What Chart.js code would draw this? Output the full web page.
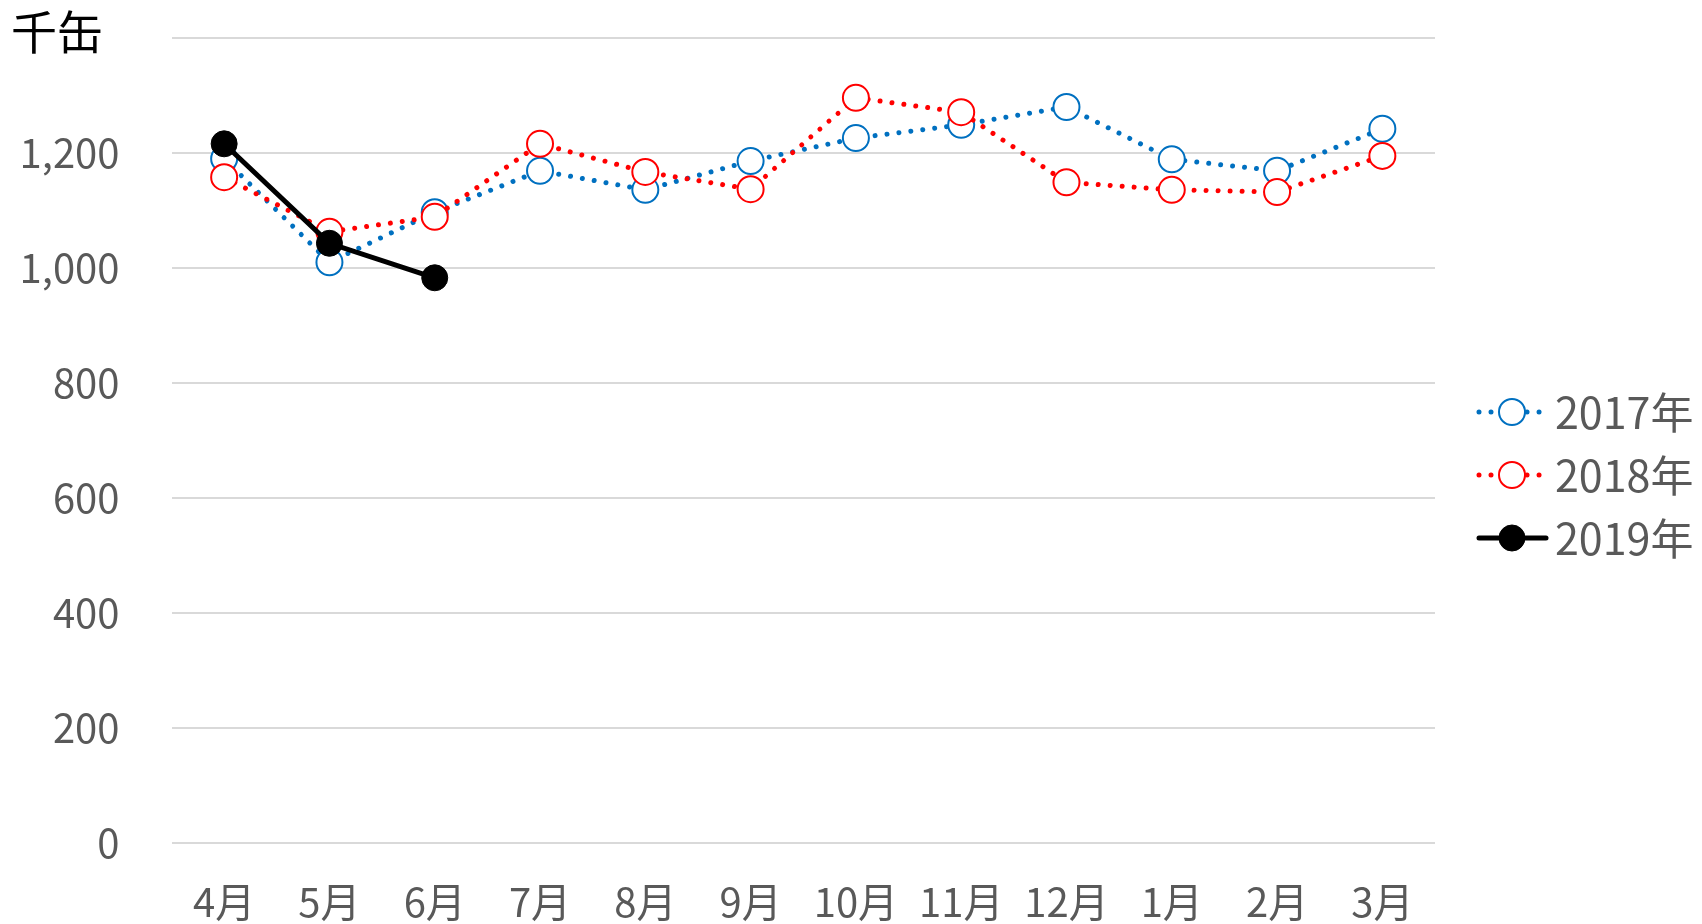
<!DOCTYPE html>
<html>
<head>
<meta charset="utf-8">
<script src="https://cdn.jsdelivr.net/npm/chart.js@4"></script>
<style>
  html, body { margin: 0; padding: 0; background: #fff; }
</style>
</head>
<body>
<canvas id="myChart" width="1702" height="924"></canvas>
<script>
// data (千缶)
const months = ["4月", "5月", "6月", "7月", "8月", "9月", "10月", "11月", "12月", "1月", "2月", "3月"];
const sales2017 = [1190, 1010, 1097, 1169, 1136, 1186, 1226, 1249, 1280, 1189, 1169, 1242];
const sales2018 = [1158, 1063, 1089, 1216, 1167, 1137, 1296, 1271, 1149, 1136, 1132, 1195];
const sales2019 = [1216, 1043, 983];
const seriesNames = ["2017年", "2018年", "2019年"];

const FONT = "'Noto Sans CJK JP', 'Noto Sans', sans-serif";
const GREY = "#595959";

document.addEventListener("DOMContentLoaded", function () {
  const canvas = document.getElementById("myChart");
  const ctx = canvas.getContext("2d");

  // unit label top-left
  const unitLabel = {
    id: "unitLabel",
    afterDraw(chart) {
      const c = chart.ctx;
      c.save();
      c.fillStyle = "#000";
      c.font = "46px " + FONT;
      c.textAlign = "left";
      c.textBaseline = "middle";
      c.fillText("千缶", 11, 32);
      c.restore();
    },
  };

  // legend on the right: line + marker + text
  const sideLegend = {
    id: "sideLegend",
    afterDraw(chart) {
      const c = chart.ctx;
      chart.data.datasets.forEach((ds, i) => {
        const y = 412 + 63 * i;
        c.save();
        c.strokeStyle = ds.borderColor;
        c.lineWidth = ds.borderWidth;
        c.lineCap = "round";
        c.setLineDash(ds.borderDash || []);
        c.beginPath();
        c.moveTo(1479, y);
        c.lineTo(1546, y);
        c.stroke();
        c.setLineDash([]);
        c.beginPath();
        c.arc(1512, y, ds.pointRadius, 0, Math.PI * 2);
        c.fillStyle = ds.pointBackgroundColor;
        c.fill();
        c.lineWidth = ds.pointBorderWidth;
        c.strokeStyle = ds.pointBorderColor;
        c.stroke();
        c.fillStyle = GREY;
        c.font = "43px " + FONT;
        c.textAlign = "left";
        c.textBaseline = "middle";
        c.fillText(ds.label, 1555, y + 1);
        c.restore();
      });
    },
  };

  new Chart(ctx, {
    type: "line",
    data: {
      labels: months,
      datasets: [
        {
          label: seriesNames[0],
          data: sales2017,
          borderColor: "#0070C0",
          borderWidth: 5,
          borderDash: [0.01, 12],
          borderCapStyle: "round",
          pointRadius: 13,
          pointBorderWidth: 2,
          pointBorderColor: "#0070C0",
          pointBackgroundColor: "#ffffff",
          tension: 0,
          order: 2,
        },
        {
          label: seriesNames[1],
          data: sales2018,
          borderColor: "#FF0000",
          borderWidth: 5,
          borderDash: [0.01, 12],
          borderCapStyle: "round",
          pointRadius: 13,
          pointBorderWidth: 2,
          pointBorderColor: "#FF0000",
          pointBackgroundColor: "#ffffff",
          tension: 0,
          order: 1,
        },
        {
          label: seriesNames[2],
          data: sales2019,
          borderColor: "#000000",
          borderWidth: 5,
          borderCapStyle: "round",
          pointRadius: 13,
          pointBorderWidth: 1,
          pointBorderColor: "#000000",
          pointBackgroundColor: "#000000",
          tension: 0,
          order: 0,
        },
      ],
    },
    options: {
      responsive: false,
      animation: false,
      layout: {
        padding: { top: 38, right: 267, bottom: 0, left: 0 },
      },
      plugins: {
        legend: { display: false },
        tooltip: { enabled: false },
      },
      scales: {
        x: {
          offset: true,
          grid: { display: false, drawTicks: false },
          border: { display: false },
          ticks: {
            color: GREY,
            font: { family: FONT, size: 40 },
            padding: 35,
            maxRotation: 0,
            autoSkip: false,
          },
          afterFit(scale) { scale.height = 81; },
        },
        y: {
          min: 0,
          max: 1400,
          grid: { color: "#d9d9d9", lineWidth: 2, drawTicks: false },
          border: { display: false },
          ticks: {
            stepSize: 200,
            color: GREY,
            font: { family: FONT, size: 40 },
            padding: 52,
            callback: (v) => (v === 1400 ? "" : v.toLocaleString("en-US")),
          },
          afterFit(scale) {
            scale.width = 171.5;
            scale.paddingTop = 0;
            scale.paddingBottom = 0;
          },
        },
      },
    },
    plugins: [unitLabel, sideLegend],
  });
});
</script>
</body>
</html>
